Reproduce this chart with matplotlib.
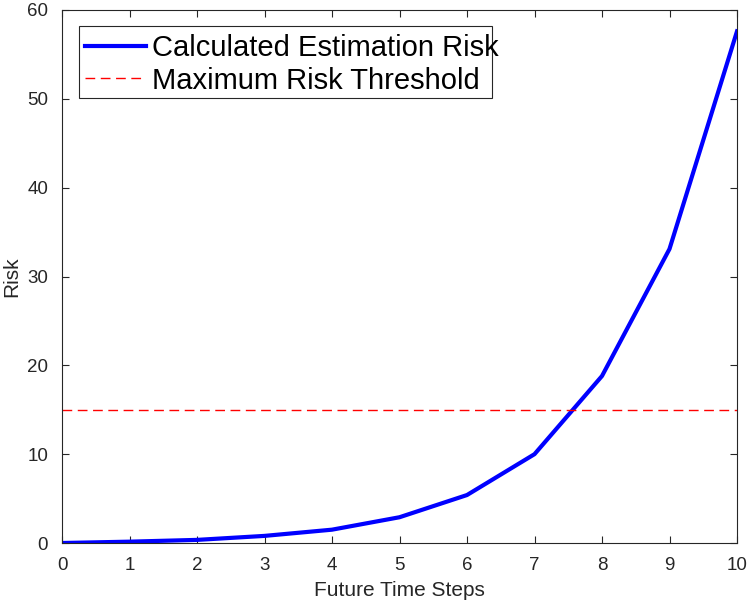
import matplotlib
matplotlib.use("Agg")
import matplotlib.pyplot as plt
from matplotlib.patches import Rectangle

steps = [0, 1, 2, 3, 4, 5, 6, 7, 8, 9, 10]
risk = [0.0, 0.15, 0.35, 0.8, 1.5, 2.9, 5.4, 10.0, 18.8, 33.1, 57.6]
threshold = 15

plt.rcParams['font.family'] = ['Liberation Sans', 'DejaVu Sans']

fig = plt.figure(figsize=(7.51, 6.06), dpi=100)
ax = fig.add_axes([62 / 751, 63 / 606, 675 / 751, 533 / 606])

ax.plot(steps, risk, color='#0000ff', linewidth=3, label='Calculated Estimation Risk')
ax.axhline(threshold, color='#ff0000', linestyle=(0, (7, 4)), linewidth=1,
           label='Maximum Risk Threshold')

ax.set_xlim(0, 10)
ax.set_ylim(0, 60)
ax.set_xticks(range(0, 11))
ax.set_yticks(range(0, 61, 10))
ax.tick_params(direction='in', top=True, right=True, labelsize=13.5,
               colors='#262626', length=5, width=0.8)
ax.tick_params(axis='x', pad=10)
ax.tick_params(axis='y', pad=10)
for s in ax.spines.values():
    s.set_color('#262626')
    s.set_linewidth(0.8)
ax.set_xlabel('Future Time Steps', fontsize=15, color='#262626', labelpad=5)
ax.set_ylabel('Risk', fontsize=15, color='#262626', labelpad=4)

leg = ax.legend(loc='upper left', bbox_to_anchor=(0.025, 0.966), fontsize=21,
                frameon=False, handlelength=2.1, handletextpad=0.2,
                borderpad=0.2, labelspacing=0.16, borderaxespad=0)
ax.add_patch(Rectangle((0.0252, 0.835), 0.612, 0.135, transform=ax.transAxes,
                       fill=False, edgecolor='#262626', linewidth=0.8, zorder=5))

fig.savefig('out.png', dpi=100)
